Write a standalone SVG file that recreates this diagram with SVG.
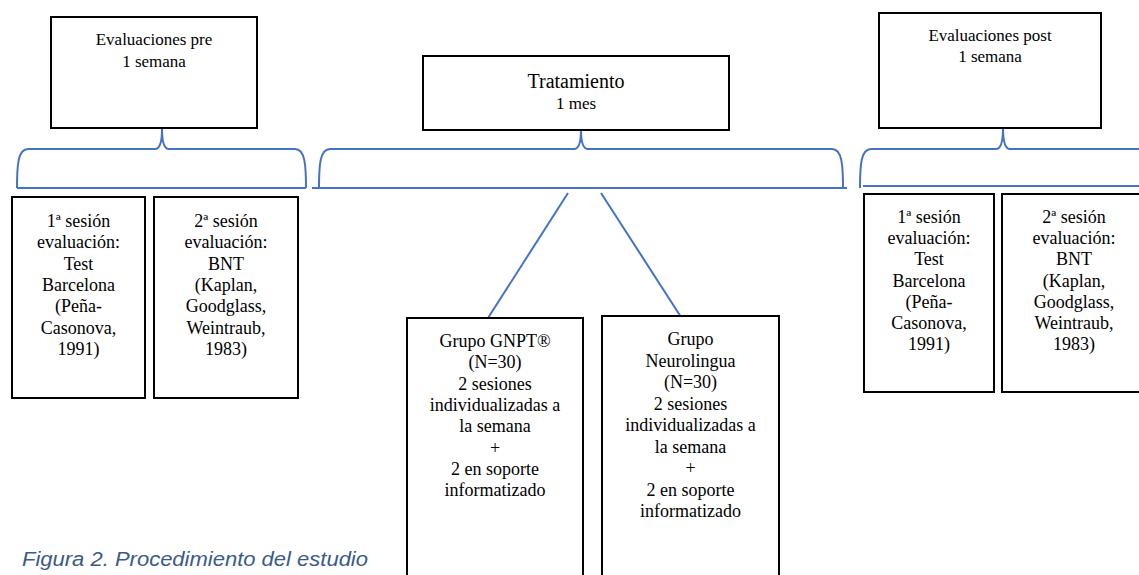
<svg xmlns="http://www.w3.org/2000/svg" width="1139" height="575" viewBox="0 0 1139 575">
<style>
.box{fill:#fff;stroke:#000;stroke-width:2}
.brace{fill:none;stroke:#4472C4;stroke-width:2}
.t{font-family:'Liberation Serif','DejaVu Serif',serif;fill:#000;text-anchor:middle}
.s17{font-size:17px}
.s18{font-size:18px}
.s20{font-size:20px}
.cap{font-family:'Liberation Sans',Arial,sans-serif;font-style:italic;font-size:20px;fill:#3A5A8C}
</style>
<rect width="1139" height="575" fill="#fff"/>
<g id="connectors">
<path class="brace" d="M17,188 C17,165 18,149 28,149 L155,149 C160,149 162,142 162,129 C162,142 164,149 169,149 L295,149 C305,149 306,165 306,188"/>
<line class="brace" x1="17" y1="188" x2="306" y2="188"/>
<path class="brace" d="M319,188 C319,165 320,149 330,149 L574,149 C579,149 581,142 581,130 C581,142 583,149 588,149 L832,149 C842,149 843,165 843,188"/>
<line class="brace" x1="312" y1="188" x2="847" y2="188"/>
<path class="brace" d="M860,188 C860,165 861,149 871,149 L996,149 C1001,149 1003,142 1003,128 C1003,142 1005,149 1010,149 L1139,149"/>
<line class="brace" x1="863" y1="186" x2="1139" y2="186"/>
<line class="brace" x1="568" y1="193" x2="488" y2="318"/>
<line class="brace" x1="601" y1="193" x2="681" y2="317"/>
</g>
<g id="pre">
<rect class="box" x="51" y="17" width="206" height="111"/>
<text class="t s17" x="154" y="45" font-family="Liberation Serif, serif">Evaluaciones pre</text>
<text class="t s17" x="154" y="67">1 semana</text>
</g>
<g id="tratamiento">
<rect class="box" x="423" y="56" width="306" height="74"/>
<text class="t s20" x="576" y="88">Tratamiento</text>
<text class="t s17" x="576" y="109">1 mes</text>
</g>
<g id="post">
<rect class="box" x="879" y="13" width="222" height="115"/>
<text class="t s17" x="990" y="41">Evaluaciones post</text>
<text class="t s17" x="990" y="62">1 semana</text>
</g>
<g id="pre-s1">
<rect class="box" x="12" y="197" width="133" height="201"/>
<text class="t s18" x="78.5" y="227">1ª sesión</text>
<text class="t s18" x="78.5" y="248.3">evaluación:</text>
<text class="t s18" x="78.5" y="269.6">Test</text>
<text class="t s18" x="78.5" y="290.9">Barcelona</text>
<text class="t s18" x="78.5" y="312.2">(Peña-</text>
<text class="t s18" x="78.5" y="333.5">Casonova,</text>
<text class="t s18" x="78.5" y="354.8">1991)</text>
</g>
<g id="pre-s2">
<rect class="box" x="154" y="197" width="144" height="201"/>
<text class="t s18" x="226" y="227">2ª sesión</text>
<text class="t s18" x="226" y="248.3">evaluación:</text>
<text class="t s18" x="226" y="269.6">BNT</text>
<text class="t s18" x="226" y="290.9">(Kaplan,</text>
<text class="t s18" x="226" y="312.2">Goodglass,</text>
<text class="t s18" x="226" y="333.5">Weintraub,</text>
<text class="t s18" x="226" y="354.8">1983)</text>
</g>
<g id="grupo-gnpt">
<rect class="box" x="407" y="318" width="176" height="270"/>
<text class="t s18" x="495" y="347">Grupo GNPT®</text>
<text class="t s18" x="495" y="368.3">(N=30)</text>
<text class="t s18" x="495" y="389.6">2 sesiones</text>
<text class="t s18" x="495" y="410.9">individualizadas a</text>
<text class="t s18" x="495" y="432.2">la semana</text>
<text class="t s18" x="495" y="453.5">+</text>
<text class="t s18" x="495" y="474.8">2 en soporte</text>
<text class="t s18" x="495" y="496.1">informatizado</text>
</g>
<g id="grupo-neurolingua">
<rect class="box" x="602" y="316" width="177" height="272"/>
<text class="t s18" x="690.5" y="345">Grupo</text>
<text class="t s18" x="690.5" y="366.5">Neurolingua</text>
<text class="t s18" x="690.5" y="388">(N=30)</text>
<text class="t s18" x="690.5" y="409.5">2 sesiones</text>
<text class="t s18" x="690.5" y="431">individualizadas a</text>
<text class="t s18" x="690.5" y="452.5">la semana</text>
<text class="t s18" x="690.5" y="474">+</text>
<text class="t s18" x="690.5" y="495.5">2 en soporte</text>
<text class="t s18" x="690.5" y="517">informatizado</text>
</g>
<g id="post-s1">
<rect class="box" x="864" y="194" width="130" height="198"/>
<text class="t s18" x="929" y="223">1ª sesión</text>
<text class="t s18" x="929" y="244.2">evaluación:</text>
<text class="t s18" x="929" y="265.4">Test</text>
<text class="t s18" x="929" y="286.6">Barcelona</text>
<text class="t s18" x="929" y="307.8">(Peña-</text>
<text class="t s18" x="929" y="329">Casonova,</text>
<text class="t s18" x="929" y="350.2">1991)</text>
</g>
<g id="post-s2">
<rect class="box" x="1002" y="194" width="144" height="198"/>
<text class="t s18" x="1074" y="223">2ª sesión</text>
<text class="t s18" x="1074" y="244.2">evaluación:</text>
<text class="t s18" x="1074" y="265.4">BNT</text>
<text class="t s18" x="1074" y="286.6">(Kaplan,</text>
<text class="t s18" x="1074" y="307.8">Goodglass,</text>
<text class="t s18" x="1074" y="329">Weintraub,</text>
<text class="t s18" x="1074" y="350.2">1983)</text>
</g>
<text class="cap" x="22" y="566" textLength="346" lengthAdjust="spacingAndGlyphs">Figura 2. Procedimiento del estudio</text>
</svg>
